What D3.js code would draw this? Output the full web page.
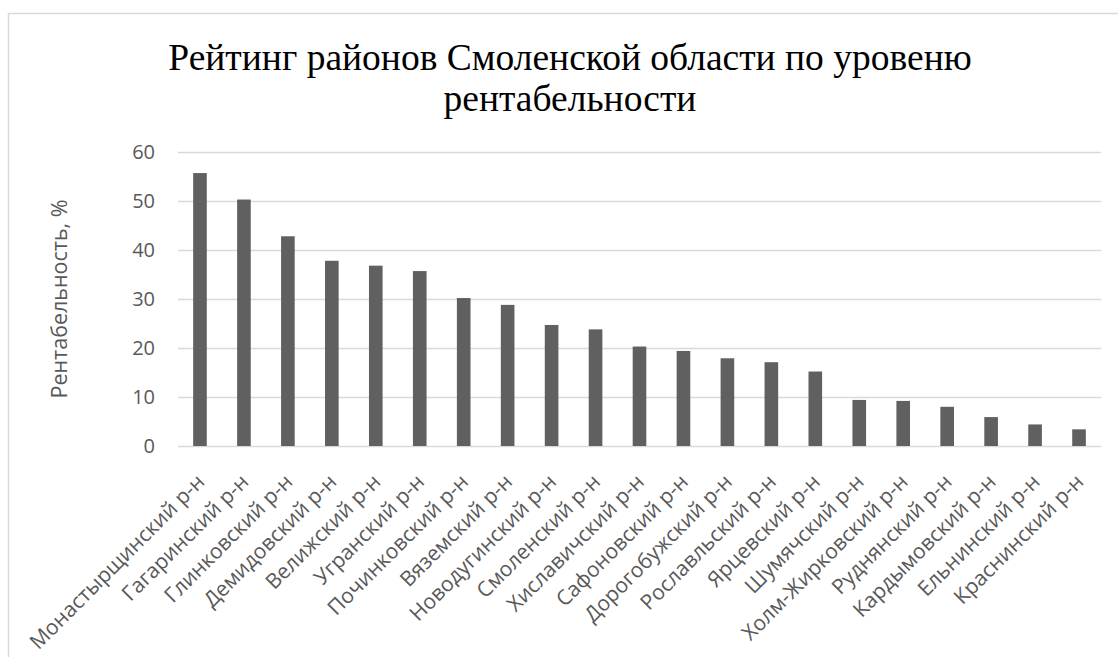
<!DOCTYPE html>
<html>
<head>
<meta charset="utf-8">
<script src="https://cdn.jsdelivr.net/npm/d3@7"></script>
<style>
  html, body { margin: 0; padding: 0; background: #fff; }
  svg { display: block; }
</style>
</head>
<body>
<svg id="chart" width="1118" height="657"></svg>
<script>
// Районы области и их рентабельность, %
const districts = [
  "Монастырщинский р-н", "Гагаринский р-н", "Глинковский р-н", "Демидовский р-н",
  "Велижский р-н", "Угранский р-н", "Починковский р-н", "Вяземский р-н",
  "Новодугинский р-н", "Смоленский р-н", "Хиславичский р-н", "Сафоновский р-н",
  "Дорогобужский р-н", "Рославльский р-н", "Ярцевский р-н", "Шумячский р-н",
  "Холм-Жирковский р-н", "Руднянский р-н", "Кардымовский р-н", "Ельнинский р-н",
  "Краснинский р-н"
];
const profitability = [
  55.7, 50.3, 42.8, 37.8, 36.8, 35.7, 30.2, 28.8, 24.7, 23.8, 20.3,
  19.4, 17.9, 17.1, 15.2, 9.4, 9.2, 8.0, 5.9, 4.4, 3.4
];
const yTicks = [0, 10, 20, 30, 40, 50, 60];
const titleLines = ["Рейтинг районов Смоленской области по уровеню", "рентабельности"];
const yTitle = "Рентабельность, %";

const svg = d3.select("#chart");
const W = 1118, H = 657;
const plot = { left: 178, right: 1101, top: 152, bottom: 446 };
const sans = "Open Sans";

// chart frame
svg.append("rect")
  .attr("x", 8.5).attr("y", 13.5)
  .attr("width", W + 10).attr("height", H + 10)
  .attr("fill", "#fff").attr("stroke", "#d9d9d9").attr("stroke-width", 1.5);

const x = d3.scaleBand()
  .domain(districts)
  .range([plot.left, plot.right])
  .paddingInner(0.69)
  .paddingOuter(0.345);

const y = d3.scaleLinear()
  .domain([0, 60])
  .range([plot.bottom, plot.top]);

// title
svg.append("text")
  .attr("text-anchor", "middle")
  .attr("font-family", "'Liberation Serif', 'Times New Roman', serif")
  .attr("font-size", 37.5)
  .attr("fill", "#000")
  .selectAll("tspan")
  .data(titleLines)
  .join("tspan")
  .attr("x", 570)
  .attr("y", (d, i) => 70 + i * 41)
  .text(d => d);

// gridlines and y axis labels
const yAxis = d3.axisLeft(y)
  .tickValues(yTicks)
  .tickSize(-(plot.right - plot.left))
  .tickPadding(23)
  .tickFormat(d3.format("d"));

const gy = svg.append("g")
  .attr("transform", `translate(${plot.left},0)`)
  .call(yAxis);
gy.select(".domain").remove();
gy.selectAll(".tick line").attr("stroke", "#d9d9d9").attr("stroke-width", 1.5);
gy.selectAll(".tick text")
  .attr("fill", "#595959")
  .attr("font-family", sans)
  .attr("font-size", 20);

// bars
svg.append("g")
  .selectAll("rect")
  .data(districts.map((d, i) => ({ name: d, value: profitability[i] })))
  .join("rect")
  .attr("x", d => x(d.name))
  .attr("y", d => y(d.value))
  .attr("width", x.bandwidth())
  .attr("height", d => y(0) - y(d.value))
  .attr("fill", "#606060");

// category labels
const xAxis = d3.axisBottom(x).tickSize(0).tickPadding(0);
const gx = svg.append("g")
  .attr("transform", `translate(0,${plot.bottom})`)
  .call(xAxis);
gx.select(".domain").remove();
gx.selectAll(".tick text")
  .attr("fill", "#595959")
  .attr("font-family", sans)
  .attr("font-size", 21)
  .attr("text-anchor", "end")
  .attr("dy", 0)
  .attr("transform", "translate(6,37) rotate(-45)");

// y axis title
svg.append("text")
  .attr("transform", `translate(67,${(plot.top + plot.bottom) / 2}) rotate(-90)`)
  .attr("text-anchor", "middle")
  .attr("fill", "#595959")
  .attr("font-family", sans)
  .attr("font-size", 21.5)
  .text(yTitle);
</script>
</body>
</html>
